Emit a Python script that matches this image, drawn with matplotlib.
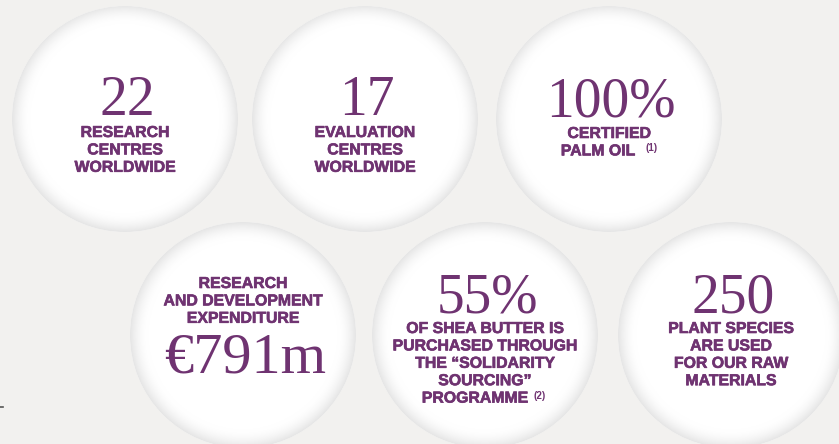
import numpy as np
import matplotlib.pyplot as plt
import matplotlib.patheffects as pe
from matplotlib.patches import Circle

# key figures, one per bubble
values = ['22', '17', '100%', '€791m', '55%', '250']
labels = [
    ['RESEARCH', 'CENTRES', 'WORLDWIDE'],
    ['EVALUATION', 'CENTRES', 'WORLDWIDE'],
    ['CERTIFIED', 'PALM OIL'],
    ['RESEARCH', 'AND DEVELOPMENT', 'EXPENDITURE'],
    ['OF SHEA BUTTER IS', 'PURCHASED THROUGH', 'THE \u201cSOLIDARITY', 'SOURCING\u201d', 'PROGRAMME'],
    ['PLANT SPECIES', 'ARE USED', 'FOR OUR RAW', 'MATERIALS'],
]
notes = ['', '', '(1)', '', '(2)', '']

# layout (pixels)
centers = [(125, 119), (365, 119), (609, 119), (243, 335), (485, 335), (731, 335)]
R = 113
num_base = [115, 115, 116, 372, 312, 312]
lab_base = [137, 137, 138, 288, 333, 333]
value_first = [True, True, True, False, True, True]
last_dx = [0, 0, -11, 0, -10, 0]
note_dx = [0, 0, 43, 0, 55, 0]

purple = '#6f3371'
bg = '#f2f1ef'
serif = ['Liberation Serif', 'DejaVu Serif']
sans = ['Liberation Sans', 'DejaVu Sans']
bold = [pe.withStroke(linewidth=0.45, foreground=purple)]

fig = plt.figure(figsize=(8.39, 4.44), dpi=100)
fig.patch.set_facecolor(bg)
ax = fig.add_axes([0, 0, 1, 1])
ax.set_xlim(0, 839)
ax.set_ylim(444, 0)
ax.set_aspect('auto')
ax.axis('off')

# radial shading for a bubble
n = 400
g = np.linspace(-1, 1, n)
xx, yy = np.meshgrid(g, g)
rr = np.sqrt(xx**2 + yy**2)
t = np.clip((rr - 0.84) / 0.16, 0, 1)
shade = 1.0 - 0.10 * t**1.8
img = np.dstack([shade, shade, shade])

for i, (cx, cy) in enumerate(centers):
    circ = Circle((cx, cy), R, fc='white', ec='none', zorder=2)
    ax.add_patch(circ)
    im = ax.imshow(img, extent=(cx - R, cx + R, cy + R, cy - R), zorder=3, interpolation='bilinear')
    im.set_clip_path(circ)

    lines = labels[i]
    step = 17.4
    fs = 40 if value_first[i] else 42
    ax.text(cx + 2, num_base[i], values[i], ha='center', va='baseline', fontsize=fs,
            family=serif, color=purple, zorder=5)
    for j, ln in enumerate(lines):
        dx = last_dx[i] if j == len(lines) - 1 else 0
        ax.text(cx + dx, lab_base[i] + j * step, ln, ha='center', va='baseline', fontsize=11.4,
                family=sans, weight='bold', color=purple, zorder=5, path_effects=bold)
    if notes[i]:
        yb = lab_base[i] + (len(lines) - 1) * step
        ax.text(cx + note_dx[i], yb - 4, notes[i], ha='center', va='baseline', fontsize=7,
                family=sans, weight='bold', color=purple, zorder=5)

# little mark on the left edge
ax.plot([0, 3], [407, 407], color='#555555', lw=1.2, zorder=5)

fig.savefig('out.png', dpi=100, facecolor=bg)
